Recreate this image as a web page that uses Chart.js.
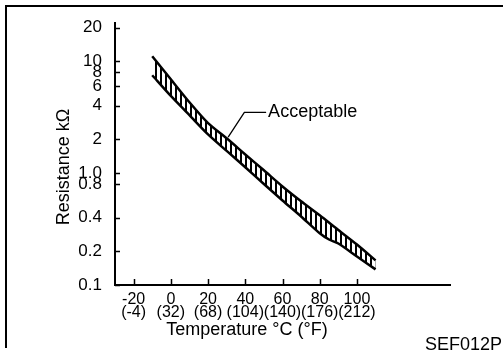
<!DOCTYPE html>
<html>
<head>
<meta charset="utf-8">
<script src="https://cdn.jsdelivr.net/npm/chart.js@4/dist/chart.umd.min.js"></script>
<style>
  html, body { margin: 0; padding: 0; background: #fff; }
  #wrap { position: relative; width: 503px; height: 358px; overflow: hidden; }
  #thermo-chart { position: absolute; left: 0; top: 0; }
  #frame { position: absolute; left: 5px; top: 5px; width: 498px; height: 343px; border-top: 2px solid #000; border-left: 2px solid #000; box-sizing: border-box; }
  #code { position: absolute; right: 1px; top: 334px; font: 18px "Liberation Sans", Arial, sans-serif; color: #000; }
</style>
</head>
<body>
<div id="wrap">
  <canvas id="thermo-chart" width="503" height="358"></canvas>
  <div id="frame"></div>
  <div id="code">SEF012P</div>
</div>
<script>
// band edges (temperature °C -> resistance kΩ)
const upperTempC = [-10, 0, 10, 20, 30, 40, 50, 60, 70, 80, 90, 100, 110];
const upperKOhm = [11.1, 6.9, 4.3, 2.8, 2.05, 1.47, 1.06, 0.76, 0.56, 0.42, 0.31, 0.23, 0.166];
const lowerTempC = [-10, 0, 10, 20, 30, 40, 50, 60, 70, 80, 85, 90, 100, 110];
const lowerKOhm = [7.5, 4.9, 3.3, 2.22, 1.58, 1.13, 0.80, 0.57, 0.41, 0.29, 0.255, 0.235, 0.18, 0.138];

// axis ticks
const tickC = [-20, 0, 20, 40, 60, 80, 100];
const tickF = ['(-4)', '(32)', '(68)', '(104)', '(140)', '(176)', '(212)'];
const tickKOhm = [0.1, 0.2, 0.4, 0.8, 1, 2, 4, 6, 8, 10, 20];
const tickKOhmText = ['0.1', '0.2', '0.4', '0.8', '1.0', '2', '4', '6', '8', '10', '20'];

// "Acceptable" leader line (data coords)
const leaderC = [30.8, 39.5, 51.2];
const leaderKOhm = [2.1, 3.5, 3.5];

const FONT = '"Liberation Sans", Arial, sans-serif';
Chart.defaults.font.family = FONT;
Chart.defaults.color = '#000';

function hatch() {
    const c = document.createElement('canvas');
    c.width = 5; c.height = 5;
    const g = c.getContext('2d');
    g.fillStyle = '#fff';
    g.fillRect(0, 0, 5, 5);
    g.fillStyle = '#000';
    g.fillRect(0, 0, 2, 5);
    return g.createPattern(c, 'repeat');
}

const extras = {
    id: 'extras',
    afterDraw(chart) {
        const { ctx, chartArea: a, scales: { x, y } } = chart;
        ctx.save();
        ctx.strokeStyle = '#000';
        ctx.lineWidth = 1.5;
        ctx.beginPath();
        tickKOhm.forEach(v => {
            const py = Math.round(y.getPixelForValue(v)) + 0.5;
            ctx.moveTo(a.left, py); ctx.lineTo(a.left + 5, py);
        });
        tickC.forEach(v => {
            const px = Math.round(x.getPixelForValue(v)) + 0.5;
            ctx.moveTo(px, a.bottom); ctx.lineTo(px, a.bottom - 6);
        });
        ctx.stroke();

        // leader
        ctx.lineWidth = 1.3;
        ctx.beginPath();
        leaderC.forEach((c, i) => {
            const px = x.getPixelForValue(c), py = y.getPixelForValue(leaderKOhm[i]);
            if (i === 0) ctx.moveTo(px, py); else ctx.lineTo(px, py);
        });
        ctx.stroke();
        ctx.fillStyle = '#000';
        ctx.font = '18px ' + FONT;
        ctx.textBaseline = 'middle';
        ctx.textAlign = 'left';
        ctx.fillText('Acceptable', x.getPixelForValue(leaderC[2]) + 2, y.getPixelForValue(leaderKOhm[2]));

        // axis titles
        ctx.font = '18px ' + FONT;
        ctx.textAlign = 'center';
        ctx.fillText('Temperature °C (°F)', 247, 330);
        ctx.translate(64, 167);
        ctx.rotate(-Math.PI / 2);
        ctx.fillText('Resistance kΩ', 0, 0);
        ctx.restore();
    }
};

const stripes = hatch();

new Chart(document.getElementById('thermo-chart'), {
    type: 'line',
    data: {
        datasets: [{
            data: upperTempC.map((c, i) => ({ x: c, y: upperKOhm[i] })),
            borderColor: '#000',
            borderWidth: 2.5,
            pointRadius: 0,
            tension: 0.25,
            fill: false,
        }, {
            data: lowerTempC.map((c, i) => ({ x: c, y: lowerKOhm[i] })),
            borderColor: '#000',
            borderWidth: 2.5,
            pointRadius: 0,
            tension: 0.25,
            fill: '-1',
            backgroundColor: stripes,
        }]
    },
    options: {
        responsive: false,
        animation: false,
        devicePixelRatio: 1,
        layout: { padding: { left: 0, top: 23, right: 53, bottom: 0 } },
        plugins: { legend: { display: false }, tooltip: { enabled: false } },
        scales: {
            x: {
                type: 'linear',
                min: -30,
                max: 150,
                grid: { display: false },
                border: { display: true, color: '#000', width: 2 },
                afterBuildTicks: s => { s.ticks = tickC.map(v => ({ value: v })); },
                afterFit: s => { s.height = 73; },
                ticks: {
                    autoSkip: false,
                    maxRotation: 0,
                    padding: 0,
                    font: { size: 16, lineHeight: 0.8 },
                    callback: v => {
                        const i = tickC.indexOf(v);
                        return i < 0 ? '' : [String(v), tickF[i]];
                    }
                }
            },
            y: {
                type: 'logarithmic',
                min: 0.1,
                max: 22,
                grid: { display: false },
                border: { display: true, color: '#000', width: 2 },
                afterBuildTicks: s => { s.ticks = tickKOhm.map(v => ({ value: v })); },
                afterFit: s => { s.width = 115; },
                ticks: {
                    autoSkip: false,
                    padding: 5,
                    font: { size: 17 },
                    callback: v => {
                        const i = tickKOhm.indexOf(v);
                        return i < 0 ? '' : tickKOhmText[i];
                    }
                }
            }
        }
    },
    plugins: [extras]
});
</script>
</body>
</html>
